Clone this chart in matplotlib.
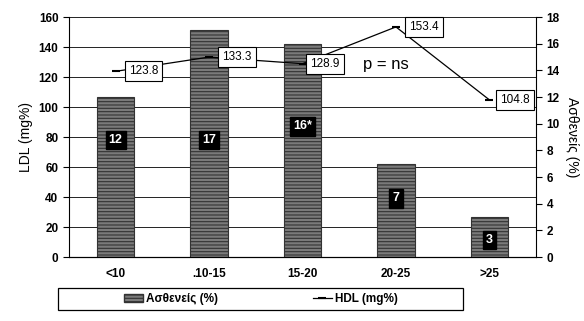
import matplotlib.pyplot as plt
from matplotlib.patches import Patch, Rectangle
from matplotlib.lines import Line2D

plt.rcParams['font.family'] = ['Liberation Sans', 'DejaVu Sans']
plt.rcParams['hatch.linewidth'] = 0.8

# ηλικιακές ομάδες
groups = ['<10', '.10-15', '15-20', '20-25', '>25']
patients = [12, 17, 16, 7, 3]          # Ασθενείς (%)
patient_tags = ['12', '17', '16*', '7', '3']
tag_y = [8.8, 8.8, 9.8, 4.4, 1.3]
hdl = [123.8, 133.3, 128.9, 153.4, 104.8]   # HDL (mg%)
hdl_box_dx = [0.3, 0.3, 0.24, 0.3, 0.27]

bar_color = '#7a7a7a'

fig = plt.figure(figsize=(5.84, 3.21), dpi=100)
ax = fig.add_axes([0.118, 0.199, 0.8, 0.748])
ax2 = ax.twinx()

x = list(range(len(groups)))

# μπάρες στον δεξί άξονα
ax2.bar(x, patients, width=0.4, color=bar_color, edgecolor='#333333',
        hatch='-----', linewidth=0.8, zorder=2)
for xi, t, ty in zip(x, patient_tags, tag_y):
    ax2.text(xi, ty, t, color='white', fontsize=9, fontweight='bold',
             ha='center', va='center', zorder=4,
             bbox=dict(boxstyle='square,pad=0.25', fc='black', ec='black'))

ax2.set_ylim(0, 18)
ax2.set_yticks(range(0, 19, 2))
ax2.set_ylabel('Ασθενείς (%)', rotation=270, labelpad=14, fontsize=10)

# γραμμή HDL στον αριστερό άξονα
ax.set_zorder(ax2.get_zorder() + 1)
ax.patch.set_visible(False)
ax.plot(x, hdl, color='black', lw=0.9, marker='_', ms=6, mew=1.5, zorder=5)
for xi, v, dx in zip(x, hdl, hdl_box_dx):
    ax.text(xi + dx, v, f'{v:.1f}', fontsize=8.5, ha='center',
            va='center', zorder=6,
            bbox=dict(boxstyle='square,pad=0.35', fc='white', ec='black',
                      lw=0.8))
ax.text(2.89, 128.5, 'p = ns', fontsize=12, ha='center', va='center')

ax.set_xlim(-0.5, 4.5)
ax.set_ylim(0, 160)
ax.set_yticks(range(0, 161, 20))
ax.set_xticks(x)
ax.set_xticklabels(groups)
ax.set_ylabel('LDL (mg%)', fontsize=10)
for a in (ax, ax2):
    a.tick_params(labelsize=8.5, width=0.8, length=4)
    for lab in a.get_yticklabels() + a.get_xticklabels():
        lab.set_fontweight('bold')
    a.spines['top'].set_visible(False)
ax.tick_params(axis='x', length=0, pad=8)
ax2.spines['left'].set_visible(False)
ax.spines['right'].set_visible(False)

# οριζόντιες γραμμές πλέγματος
for v in range(20, 161, 20):
    ax2.axhline(v * 18 / 160, color='#222222', lw=0.7, zorder=1)

# υπόμνημα με φαρδύ πλαίσιο
handles = [Patch(facecolor=bar_color, edgecolor='#333333', hatch='-----'),
           Line2D([], [], color='black', lw=0.9, marker='_', ms=6, mew=1.5)]
fig.legend(handles, ['Ασθενείς (%)', 'HDL (mg%)'], ncol=2,
           loc='center', bbox_to_anchor=(0.447, 0.069),
           frameon=False, columnspacing=8, handlelength=1.6,
           handletextpad=0.3, prop={'weight': 'bold', 'size': 8.5})
fig.patches.append(Rectangle((0.1, 0.034), 0.693, 0.07,
                             transform=fig.transFigure, fill=False,
                             ec='black', lw=0.9))

fig.savefig('out.png', dpi=100)
